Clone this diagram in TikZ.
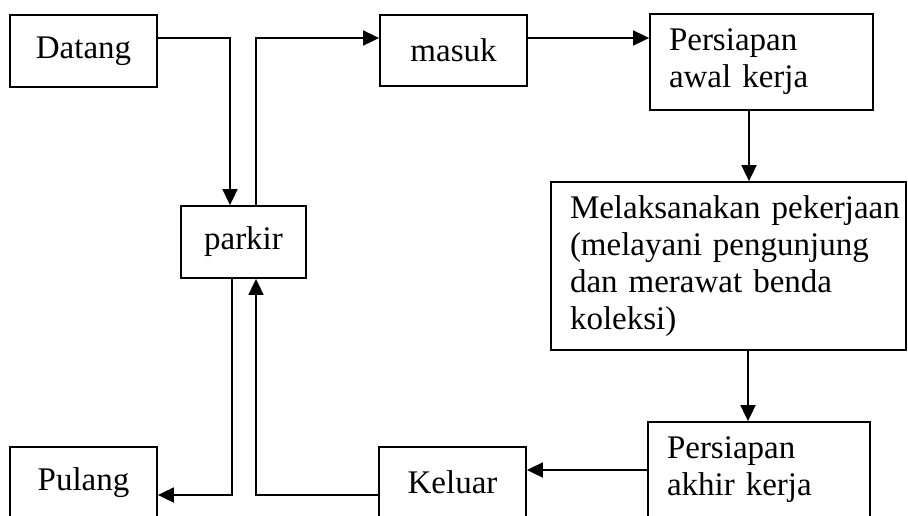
\documentclass[tikz,border=0pt]{standalone}
\usepackage{fontspec}
\setmainfont{Liberation Serif}
\usetikzlibrary{arrows.meta}
\begin{document}
\begin{tikzpicture}[x=1pt,y=-1pt,
  box/.style={draw,line width=1.8pt,rectangle,inner sep=0pt,
    font=\fontsize{33}{37}\selectfont},
  wbox/.style={box,minimum width=147pt,minimum height=72pt,align=center},
  tbox/.style={box,align=left,inner xsep=19pt},
  arr/.style={line width=1.8pt,-{Triangle[length=16pt,width=15pt]}}]
\clip (0,0) rectangle (908,515);
\fill[white] (0,0) rectangle (908,515);
\node[wbox] (datang) at (83.5,51) {Datang};
\node[wbox,minimum width=125pt] (parkir) at (243.5,242) {parkir};
\node[wbox,minimum height=71pt] (masuk) at (453.5,50.5) {masuk};
\node[tbox,text width=185pt,minimum height=96pt] (awal) at (761.5,62) {Persiapan\\awal kerja};
\node[tbox,text width=317pt,minimum height=168pt] (melak) at (728.5,266) {\mbox{Melaksanakan pekerjaan}\\(melayani pengunjung\\dan merawat benda\\koleksi)};
\node[tbox,text width=184pt,minimum height=96pt] (akhir) at (759,470) {Persiapan\\akhir kerja};
\node[wbox,minimum height=71pt] (keluar) at (452.5,482.5) {Keluar};
\node[wbox,minimum height=71pt] (pulang) at (83.5,482.5) {Pulang};
\draw[arr] ([yshift=13pt]datang.east) -| ([xshift=-13.5pt]parkir.north);
\draw[arr] ([xshift=12.5pt]parkir.north) |- ([yshift=12.5pt]masuk.west);
\draw[arr] ([yshift=12.5pt]masuk.east) -- ([yshift=12.5pt]masuk.east -| awal.west);
\draw[arr] ([xshift=-12.5pt]awal.south) -- ([xshift=-12.5pt]awal.south |- melak.north);
\draw[arr] ([xshift=19.5pt]melak.south) -- ([xshift=19.5pt]melak.south |- akhir.north);
\draw[arr] (akhir.west) -- (akhir.west -| keluar.east);
\draw[arr] ([yshift=-12.5pt]keluar.west) -| ([xshift=12.5pt]parkir.south);
\draw[arr] ([xshift=-11.5pt]parkir.south) |- ([yshift=-12.5pt]pulang.east);
\end{tikzpicture}
\end{document}
